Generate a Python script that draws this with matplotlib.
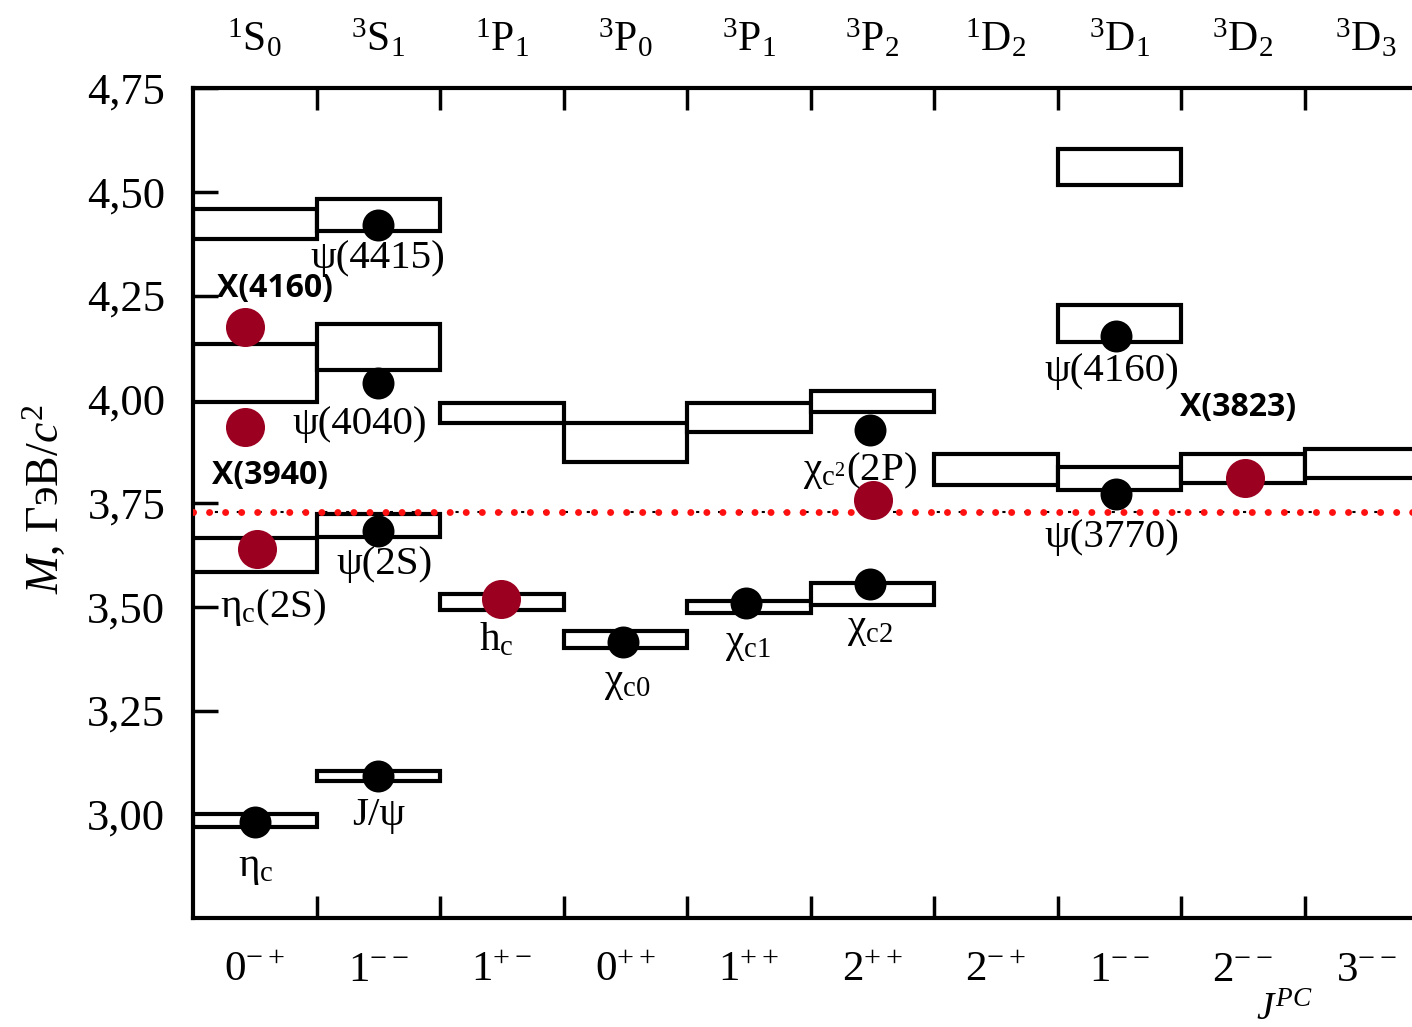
import matplotlib
matplotlib.use('Agg')
import matplotlib.pyplot as plt
import numpy as np

plt.rcParams['mathtext.fontset'] = 'custom'
plt.rcParams['mathtext.rm'] = 'Liberation Serif'
plt.rcParams['mathtext.it'] = 'Liberation Serif:italic'
plt.rcParams['mathtext.bf'] = 'Liberation Serif:bold'
plt.rcParams['font.family'] = 'Liberation Serif'

# ---------------- data ----------------
term_labels = [r'$^{1}\mathrm{S}_{0}$', r'$^{3}\mathrm{S}_{1}$', r'$^{1}\mathrm{P}_{1}$',
               r'$^{3}\mathrm{P}_{0}$', r'$^{3}\mathrm{P}_{1}$', r'$^{3}\mathrm{P}_{2}$',
               r'$^{1}\mathrm{D}_{2}$', r'$^{3}\mathrm{D}_{1}$', r'$^{3}\mathrm{D}_{2}$',
               r'$^{3}\mathrm{D}_{3}$']
jpc_labels = [r'$0^{-+}$', r'$1^{--}$', r'$1^{+-}$', r'$0^{++}$', r'$1^{++}$',
              r'$2^{++}$', r'$2^{-+}$', r'$1^{--}$', r'$2^{--}$', r'$3^{--}$']
ytick_values = [3.00, 3.25, 3.50, 3.75, 4.00, 4.25, 4.50, 4.75]
ytick_labels = ['3,00', '3,25', '3,50', '3,75', '4,00', '4,25', '4,50', '4,75']

# predicted levels (boxes): column index, lower and upper mass (GeV)
box_col = [0, 0, 0, 0, 1, 1, 1, 1, 2, 2, 3, 3, 4, 4, 5, 5, 6, 7, 7, 7, 8, 9]
box_lo = [4.386, 3.993, 3.584, 2.969, 4.405, 4.070, 3.668, 3.080, 3.943, 3.492,
          3.849, 3.401, 3.921, 3.485, 3.969, 3.504, 3.793, 4.516, 4.138, 3.781,
          3.798, 3.810]
box_hi = [4.458, 4.133, 3.666, 3.001, 4.483, 4.181, 3.724, 3.104, 3.991, 3.531,
          3.943, 3.442, 3.991, 3.514, 4.020, 3.557, 3.868, 4.603, 4.227, 3.837,
          3.868, 3.880]

# known charmonia (black)
known_x = [0.50, 1.50, 1.50, 1.50, 1.50, 3.48, 4.48, 5.48, 5.48, 7.47, 7.47]
known_m = [2.981, 3.092, 3.683, 4.039, 4.420, 3.415, 3.509, 3.555, 3.926, 3.772, 4.152]

# new / exotic states (red)
new_x = [0.42, 0.42, 0.52, 2.49, 5.51, 8.52]
new_m = [4.174, 3.933, 3.639, 3.519, 3.757, 3.810]

threshold = 3.729

# ---------------- figure ----------------
fig = plt.figure(figsize=(14.12, 10.27), dpi=100)
ax = fig.add_axes([193 / 1412, 109 / 1027, 10 * 123.5 / 1412, 830 / 1027])
ax.set_xlim(0, 10)
ax.set_ylim(2.75, 4.75)

heights = np.array(box_hi) - np.array(box_lo)
ax.bar(box_col, heights, bottom=box_lo, width=1.0, align='edge',
       facecolor='white', edgecolor='black', linewidth=3, zorder=2)

ax.axhline(threshold, color='black', lw=1.5, ls=(0, (1.5, 9)), zorder=3)
ax.axhline(threshold, color='#ff1010', lw=5, ls=(0, (0.01, 2.3)),
           dash_capstyle='round', zorder=4)

ax.scatter(known_x, known_m, s=530, c='black', zorder=6, linewidths=0)
ax.scatter(new_x, new_m, s=790, c='#9c0020', zorder=6, linewidths=0)

# annotations
serif = dict(fontsize=29.5, ha='center', va='center', family='Liberation Serif', zorder=7)
sans = dict(fontsize=23, ha='center', va='center', family='Open Sans', fontweight='bold', zorder=7)
ax.text(1.50, 4.340, 'ψ(4415)', **serif)
ax.text(1.35, 3.938, 'ψ(4040)', **serif)
ax.text(1.55, 3.601, 'ψ(2S)', **serif)
ax.text(0.22, 3.499, r'$\mathrm{η}_\mathrm{c}$(2S)', fontsize=29.5, ha='left', va='center', zorder=7)
ax.text(1.50, 2.998, 'J/ψ', **serif)
ax.text(0.51, 2.870, r'$\mathrm{η}_\mathrm{c}$', **serif)
ax.text(2.46, 3.420, r'h$_\mathrm{c}$', **serif)
ax.text(3.52, 3.316, r'$\mathrm{χ}_\mathrm{c0}$', **serif)
ax.text(4.49, 3.408, r'$\mathrm{χ}_\mathrm{c1}$', **serif)
ax.text(5.48, 3.444, r'$\mathrm{χ}_\mathrm{c2}$', **serif)
ax.text(5.40, 3.829, r'$\mathrm{χ}_{\mathrm{c}^{2}}$(2P)', **serif)
ax.text(7.44, 4.066, 'ψ(4160)', **serif)
ax.text(7.44, 3.666, 'ψ(3770)', **serif)
ax.text(0.66, 4.268, 'X(4160)', **sans)
ax.text(0.62, 3.817, 'X(3940)', **sans)
ax.text(8.46, 3.981, 'X(3823)', **sans)

# axes styling
for s in ['left', 'bottom', 'top']:
    ax.spines[s].set_linewidth(3)
ax.spines['right'].set_visible(False)

ax.set_yticks(ytick_values, ytick_labels)
ax.tick_params(axis='y', direction='in', length=18, width=2.5, pad=20, labelsize=32,
               colors='black')

ax.set_xticks(np.arange(1, 10))
ax.tick_params(axis='x', which='major', direction='in', length=16, width=2.5,
               top=True, bottom=True, labelbottom=False, labeltop=False)
ax.set_xticks(np.arange(10) + 0.5, minor=True)
ax.set_xticklabels(jpc_labels, minor=True)
ax.tick_params(axis='x', which='minor', length=0, pad=24, labelsize=31, bottom=True, top=False)

sec = ax.secondary_xaxis('top')
sec.set_xticks(np.arange(10) + 0.5, term_labels)
sec.tick_params(length=0, pad=20, labelsize=30)
sec.spines['top'].set_visible(False)

ax.set_ylabel(r'$M$, ГэВ/$c^2$', fontsize=33)
ax.yaxis.set_label_coords(-0.100, 0.505)
ax.set_xlabel(r'$J^{PC}$', fontsize=28)
ax.xaxis.set_label_coords(0.884, -0.089)

fig.savefig('out.png', dpi=100)
